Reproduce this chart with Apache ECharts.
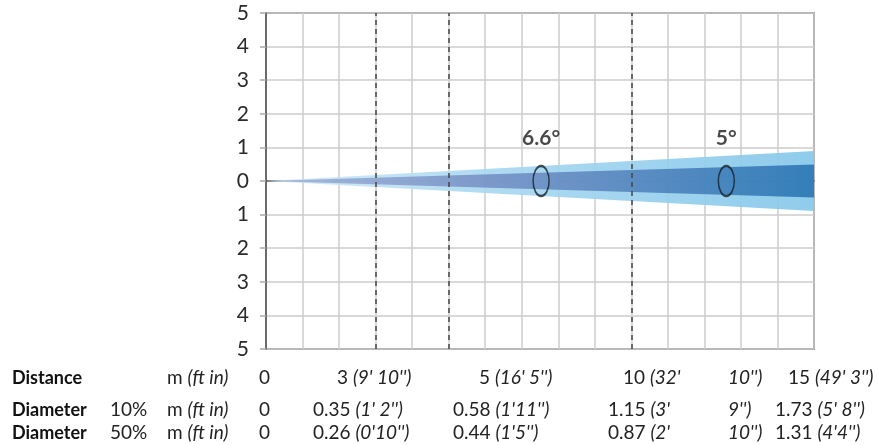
<!DOCTYPE html>
<html>
<head>
<meta charset="utf-8">
<script src="https://cdn.jsdelivr.net/npm/echarts@6/dist/echarts.min.js"></script>
<style>
html,body{margin:0;padding:0;background:#fff;}
#c{width:878px;height:445px;}
</style>
</head>
<body>
<div id="c"></div>
<script>
// ---- data ----
const xTicks = [0, 15];            // distance axis range (m)
const yTicks = [-5, 5];            // beam half-width axis range (m)
const dashedAt = [3, 5, 10];       // marked distances
const beamX = [0, 15];
const beamOuter = [0, 0.89];       // 10% half-diameter as drawn
const beamInner = [0, 0.49];       // 50% half-diameter as drawn
const angleX = [7.53, 12.6];
const angleLabels = ['6.6°', '5°'];

const distM   = ['0', '3', '5', '10', '15'];
const distFt  = ['', "9' 10''", "16' 5''", "32'|10'')", "49' 3''"];
const d10M    = ['0', '0.35', '0.58', '1.15', '1.73'];
const d10Ft   = ['', "1' 2''", "1'11''", "3'|9'')", "5' 8''"];
const d50M    = ['0', '0.26', '0.44', '0.87', '1.31'];
const d50Ft   = ['', "0'10''", "1'5''", "2'|10'')", "4'4''"];

// ---- layout (not data) ----
const FONT = 'Lato, "Noto Sans", sans-serif';
const FS = 19;
const rowY = [378, 410, 433];
const rowColX = [
  [259, 337, 479, 623, 788],
  [259, 313, 453, 608, 775],
  [259, 313, 453, 608, 775]
];
const splitX = 728;

const chart = echarts.init(document.getElementById('c'));

const rich = {
  n: {fontFamily: FONT, fontSize: FS, fill: '#222', color: '#222'},
  i: {fontFamily: FONT, fontSize: FS, fontStyle: 'italic', fill: '#222', color: '#222'},
  b: {fontFamily: FONT, fontSize: 18, fontWeight: 'bold', fill: '#111', color: '#111'}
};

function txt(x, y, text) {
  return {
    type: 'text', x: x, y: y, silent: true,
    style: {text: text, rich: rich, fontFamily: FONT, fontSize: FS, fill: '#222', verticalAlign: 'middle', align: 'left'}
  };
}

const graphics = [];
const rowNames = [['Distance', ''], ['Diameter', '10%'], ['Diameter', '50%']];
const rows = [[distM, distFt], [d10M, d10Ft], [d50M, d50Ft]];
rows.forEach(function (r, ri) {
  const y = rowY[ri];
  graphics.push(txt(12, y, '{b|' + rowNames[ri][0] + '}'));
  if (rowNames[ri][1]) graphics.push(txt(110, y, '{n|' + rowNames[ri][1] + '}'));
  graphics.push(txt(167, y, '{n|m }{i|(ft in)}'));
  r[0].forEach(function (m, ci) {
    const ft = r[1][ci];
    const x = rowColX[ri][ci];
    if (!ft) { graphics.push(txt(x, y, '{n|' + m + '}')); return; }
    if (ft.indexOf('|') >= 0) {
      const parts = ft.split('|');
      graphics.push(txt(x, y, '{n|' + m + ' }{i|(' + parts[0] + '}'));
      graphics.push(txt(splitX, y, '{i|' + parts[1] + '}'));
    } else {
      graphics.push(txt(x, y, '{n|' + m + ' }{i|(' + ft + ')}'));
    }
  });
});

function beamPolygon(api, half) {
  const pts = [];
  for (let i = 0; i < beamX.length; i++) pts.push(api.coord([beamX[i], half[i]]));
  for (let i = beamX.length - 1; i >= 0; i--) pts.push(api.coord([beamX[i], -half[i]]));
  return pts;
}

chart.setOption({
  animation: false,
  grid: {left: 266, right: 64, top: 13, bottom: 96, show: true, borderColor: '#505050', borderWidth: 1.5, containLabel: false},
  xAxis: {
    type: 'value', min: xTicks[0], max: xTicks[1], interval: 1,
    axisLine: {show: true, lineStyle: {color: '#505050', width: 1.5}},
    axisTick: {show: false}, axisLabel: {show: false},
    splitLine: {show: true, lineStyle: {color: '#cdcdcd', width: 1.5}}
  },
  yAxis: {
    type: 'value', min: yTicks[0], max: yTicks[1], interval: 1,
    axisLine: {show: true, lineStyle: {color: '#505050', width: 1.5}},
    axisTick: {show: true, length: 6, lineStyle: {color: '#aaaaaa', width: 1.5}},
    axisLabel: {margin: 17, color: '#2a2a2a', fontFamily: FONT, fontSize: 21, formatter: function (v) { return Math.abs(v); }},
    splitLine: {show: true, lineStyle: {color: '#cdcdcd', width: 1.5}}
  },
  graphic: graphics,
  series: [
    {
      type: 'custom', z: 2, data: [0], silent: true,
      renderItem: function (params, api) {
        return {
          type: 'group',
          children: [
            {type: 'polygon', shape: {points: beamPolygon(api, beamOuter)},
             style: {fill: new echarts.graphic.LinearGradient(0, 0, 1, 0, [
               {offset: 0, color: '#d4eaf7'}, {offset: 0.4, color: '#a9d8f1'}, {offset: 1, color: '#86c8ea'}]), opacity: 0.92}},
            {type: 'polygon', shape: {points: beamPolygon(api, beamInner)},
             style: {fill: new echarts.graphic.LinearGradient(0, 0, 1, 0, [
               {offset: 0, color: '#a6b6da'}, {offset: 0.4, color: '#7893c6'}, {offset: 1, color: '#2b78b5'}]), opacity: 0.92}}
          ]
        };
      },
      markLine: {
        silent: true, symbol: ['none', 'none'], label: {show: false},
        lineStyle: {color: '#444', width: 1.5, type: [5, 4]},
        data: dashedAt.map(function (d) { return {xAxis: d}; })
      }
    },
    {
      type: 'scatter', z: 5, silent: true,
      symbol: 'circle', symbolSize: [16, 30],
      itemStyle: {color: 'rgba(0,0,0,0)', borderColor: '#15202c', borderWidth: 2},
      label: {show: true, position: 'top', distance: 16, color: '#1a1a1a', fontFamily: FONT, fontSize: 21, fontWeight: 'bold',
        formatter: function (p) { return angleLabels[p.dataIndex]; }},
      data: angleX.map(function (x) { return [x, 0]; })
    }
  ]
});
</script>
</body>
</html>
